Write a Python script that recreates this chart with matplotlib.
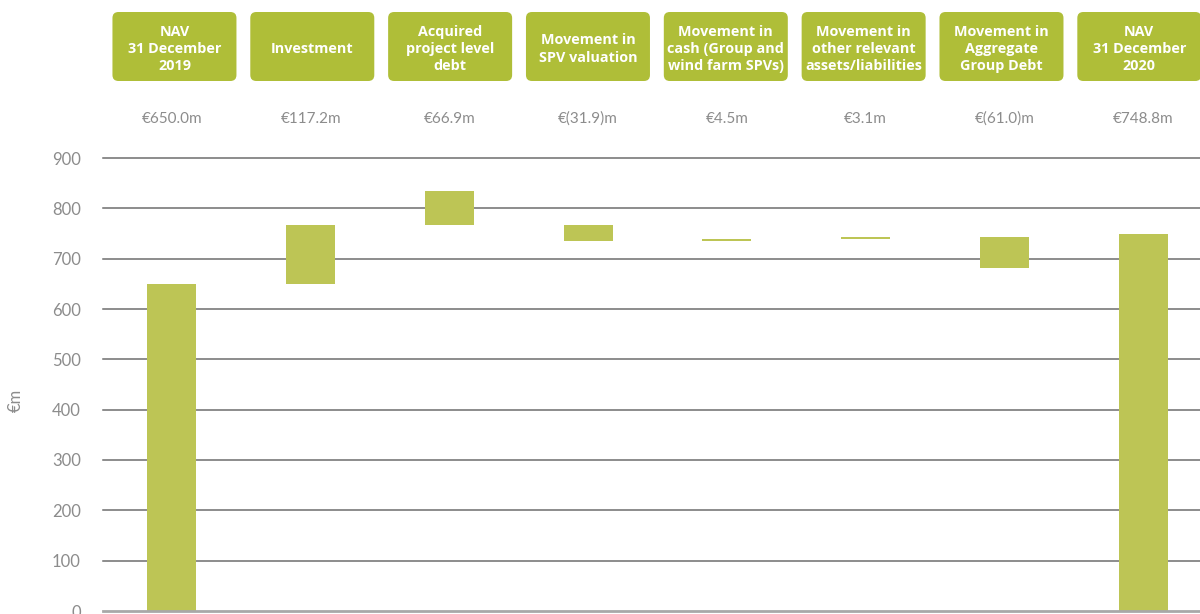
import numpy as np
import matplotlib.pyplot as plt
from matplotlib.patches import FancyBboxPatch
from matplotlib.transforms import IdentityTransform

headers = ['NAV\n31 December\n2019', 'Investment', 'Acquired\nproject level\ndebt',
           'Movement in\nSPV valuation', 'Movement in\ncash (Group and\nwind farm SPVs)',
           'Movement in\nother relevant\nassets/liabilities', 'Movement in\nAggregate\nGroup Debt',
           'NAV\n31 December\n2020']
value_labels = ['€650.0m', '€117.2m', '€66.9m', '€(31.9)m', '€4.5m', '€3.1m', '€(61.0)m', '€748.8m']
start_nav = 650.0
movements = [117.2, 66.9, -31.9, 4.5, 3.1, -61.0]
# the published bridge does not carry the acquired debt step into the next bar
carried = [True, False, True, True, True, True]
end_nav = 748.8
yticks = [0, 100, 200, 300, 400, 500, 600, 700, 800, 900]

bar_color = '#BDC555'
box_color = '#AFBE38'
grey_text = '#8c8c8c'

plt.rcParams['font.family'] = ['Lato', 'DejaVu Sans']

def main():
    fig = plt.figure(figsize=(12, 6.14), dpi=100)
    ax = fig.add_axes([103 / 1200, 3 / 614, 1097 / 1200, 453 / 614])

    # waterfall bottoms/heights
    bottoms = [0]
    heights = [start_nav]
    level = start_nav
    for v, c in zip(movements, carried):
        bottoms.append(min(level, level + v))
        heights.append(abs(v))
        if c:
            level += v
    bottoms.append(0)
    heights.append(end_nav)

    x = np.arange(len(headers))
    ax.bar(x, heights, bottom=bottoms, width=0.353, color=bar_color, zorder=3)

    ax.set_xlim(-0.497, 7.41)
    ax.set_ylim(0, 900)
    ax.set_yticks(yticks)
    ax.set_xticks([])
    for t in yticks[1:]:
        ax.axhline(t, color='#6e6e6e', lw=1.1, zorder=1, clip_on=False)
    ax.axhline(0, color='#a8a8a8', lw=2, zorder=4, clip_on=False)
    for s in ax.spines.values():
        s.set_visible(False)
    ax.tick_params(axis='y', length=0, pad=16, labelsize=12, labelcolor=grey_text)
    ax.set_ylabel('€m', color=grey_text, fontsize=12)
    ax.yaxis.set_label_coords(-0.072, 0.465)

    fig.canvas.draw()
    H = fig.bbox.height
    for i, (h, lab) in enumerate(zip(headers, value_labels)):
        bx = ax.transData.transform((i, 0))[0]
        cx = bx + 2.5 - 0.9 * i
        w, bh = 124, 69
        top = H - 12
        box = FancyBboxPatch((cx - w / 2, top - bh), w, bh,
                             boxstyle='round,pad=0,rounding_size=6',
                             transform=IdentityTransform(), facecolor=box_color,
                             edgecolor='none')
        fig.patches.append(box)
        fig.text(cx / fig.bbox.width, (top - bh / 2 - 2.5) / H, h, ha='center', va='center',
                 color='white', fontsize=10.4, fontweight='bold', linespacing=1.28,
                 family=['Open Sans', 'DejaVu Sans'])
        fig.text(bx / fig.bbox.width, (H - 119) / H, lab, ha='center', va='center',
                 color=grey_text, fontsize=11)

    fig.savefig('out.png', dpi=100)

if __name__ == '__main__':
    main()
